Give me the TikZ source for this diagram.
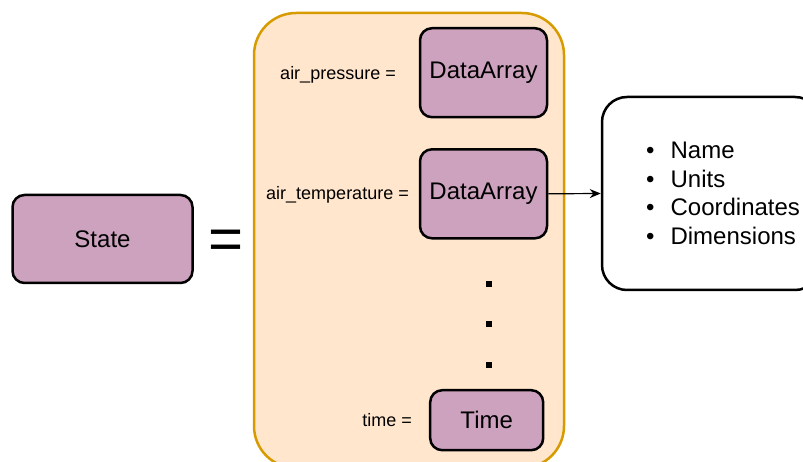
\documentclass[tikz,border=0pt]{standalone}
\usepackage{fontspec}
\setmainfont{Liberation Sans}
\usetikzlibrary{arrows.meta}
\definecolor{boxpurple}{HTML}{CDA2BE}
\definecolor{paleorange}{HTML}{FFE6CC}
\definecolor{darkorange}{HTML}{D79B00}

\begin{document}
\begin{tikzpicture}[x=1pt,y=-1pt,
    databox/.style={draw=black,fill=boxpurple,line width=2.5pt,rounded corners=12pt,
      font=\fontsize{24}{28}\selectfont},
    lbl/.style={anchor=base east,inner sep=0pt,font=\fontsize{18}{21}\selectfont}]
  \useasboundingbox (0,0) rectangle (803,462);
  \clip (0,0) rectangle (803,462);
  \draw[draw=darkorange,fill=paleorange,line width=2.5pt,rounded corners=42pt] (254,13) rectangle (564,468);
  \node[databox,minimum width=180pt,minimum height=88pt] (state) at (102.5,239) {State};
  \node[anchor=base,inner sep=0pt,font=\fontsize{60}{60}\selectfont] (equals) at (226,260) {=};
  \node[databox,minimum width=127pt,minimum height=89pt] (pressure) at (483.5,72.7) {DataArray};
  \node[databox,minimum width=127pt,minimum height=89pt] (temperature) at (483.5,193.8) {DataArray};
  \node[databox,minimum width=113pt,minimum height=60pt] (time) at (486.7,420.2) {Time};
  \node[lbl] (pressurelbl) at (396,80) {air\_pressure =};
  \node[lbl] (temperaturelbl) at (409,199.5) {air\_temperature =};
  \node[lbl] (timelbl) at (412,426.5) {time =};
  \fill (486,281) rectangle +(6,6);
  \fill (486,321) rectangle +(6,6);
  \fill (486,362) rectangle +(6,6);
  \node[draw=black,fill=white,line width=2.5pt,rounded corners=25pt,minimum width=218pt,minimum height=193pt] (info) at (711,193.5) {};
  \node[anchor=west,inner sep=0pt,align=left,font=\fontsize{24}{28.7}\selectfont] (fields) at (646,193.4)
    {\textbullet\hspace{16pt}Name\\ \textbullet\hspace{16pt}Units\\ \textbullet\hspace{16pt}Coordinates\\ \textbullet\hspace{16pt}Dimensions};
  \draw[-{Stealth[length=11pt,width=9pt]},line width=1.2pt] (temperature.east) -- (info.west);
\end{tikzpicture}
\end{document}
